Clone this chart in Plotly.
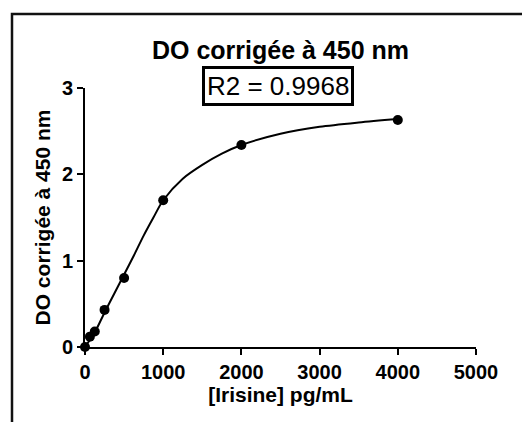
import plotly.graph_objects as go

# Data
conc = [0, 62.5, 125, 250, 500, 1000, 2000, 4000]
od = [0.0, 0.12, 0.18, 0.43, 0.80, 1.70, 2.34, 2.63]

# Fitted curve
fit_x = [0, 125, 250, 375, 500, 625, 750, 875, 1000, 1250, 1500, 1750, 2000, 2500, 3000, 3500, 4000]
fit_y = [0.0, 0.17, 0.40, 0.62, 0.84, 1.06, 1.29, 1.50, 1.70, 1.95, 2.11, 2.24, 2.34, 2.47, 2.55, 2.60, 2.64]

x_ticks = [0, 1000, 2000, 3000, 4000, 5000]
y_ticks = [0, 1, 2, 3]

title_text = "DO corrigée à 450 nm"
r2_text = "R2 = 0.9968"
x_title = "[Irisine] pg/mL"
y_title = "DO corrigée à 450 nm"

FONT = "Liberation Sans, Arial, sans-serif"

fig = go.Figure()
fig.add_trace(go.Scatter(x=fit_x, y=fit_y, mode="lines",
                         line=dict(color="black", width=2, shape="spline", smoothing=0.8),
                         cliponaxis=False, showlegend=False, hoverinfo="skip"))
fig.add_trace(go.Scatter(x=conc, y=od, mode="markers",
                         marker=dict(color="black", size=10),
                         cliponaxis=False, showlegend=False))

# page body has an 8px margin, so the figure is 8px smaller
W, H = 522, 414
L, R, T, B = 77, 54, 80, 75
pw, ph = W - L - R, H - T - B

def px_to_paper(px, py):
    return (px - L) / pw, (H - B - py) / ph

fx0, fy0 = px_to_paper(4, 6)
fx1, fy1 = px_to_paper(540, 440)
ax_, ay_ = px_to_paper(270, 78)

fig.update_layout(
    width=W, height=H,
    margin=dict(l=L, r=R, t=T, b=B),
    paper_bgcolor="white", plot_bgcolor="white",
    font=dict(family=FONT, color="black"),
    title=dict(text=title_text, x=0.5, xref="paper", y=1 - 42 / H, yref="container",
               xanchor="center", yanchor="middle",
               font=dict(family=FONT, size=25, weight="bold", color="black")),
    xaxis=dict(range=[0, 5000], tickvals=x_ticks, ticktext=[str(v) for v in x_ticks],
               showgrid=False, zeroline=False, showline=True, linecolor="black", linewidth=2,
               ticks="outside", ticklen=6, tickwidth=2, tickcolor="black",
               tickfont=dict(family=FONT, size=20, weight="bold", color="black"),
               title=dict(text=x_title, standoff=2,
                          font=dict(family=FONT, size=21, weight="bold", color="black"))),
    yaxis=dict(range=[0, 3], tickvals=y_ticks, ticktext=[str(v) for v in y_ticks],
               showgrid=False, zeroline=False, showline=True, linecolor="black", linewidth=2,
               ticks="outside", ticklen=6, tickwidth=2, tickcolor="black",
               tickfont=dict(family=FONT, size=20, weight="bold", color="black"),
               title=dict(text=y_title, standoff=6,
                          font=dict(family=FONT, size=21, weight="bold", color="black"))),
    annotations=[dict(text=r2_text, xref="paper", yref="paper",
                      x=ax_, y=ay_,
                      xanchor="center", yanchor="middle", showarrow=False,
                      font=dict(family=FONT, size=26, color="black"),
                      bordercolor="black", borderwidth=3, borderpad=2, bgcolor="white")],
    shapes=[dict(type="rect", xref="paper", yref="paper", x0=fx0, y0=fy1, x1=fx1, y1=fy0,
                 line=dict(color="#111", width=2.5), layer="below")],
)

fig.write_html("out.html")
